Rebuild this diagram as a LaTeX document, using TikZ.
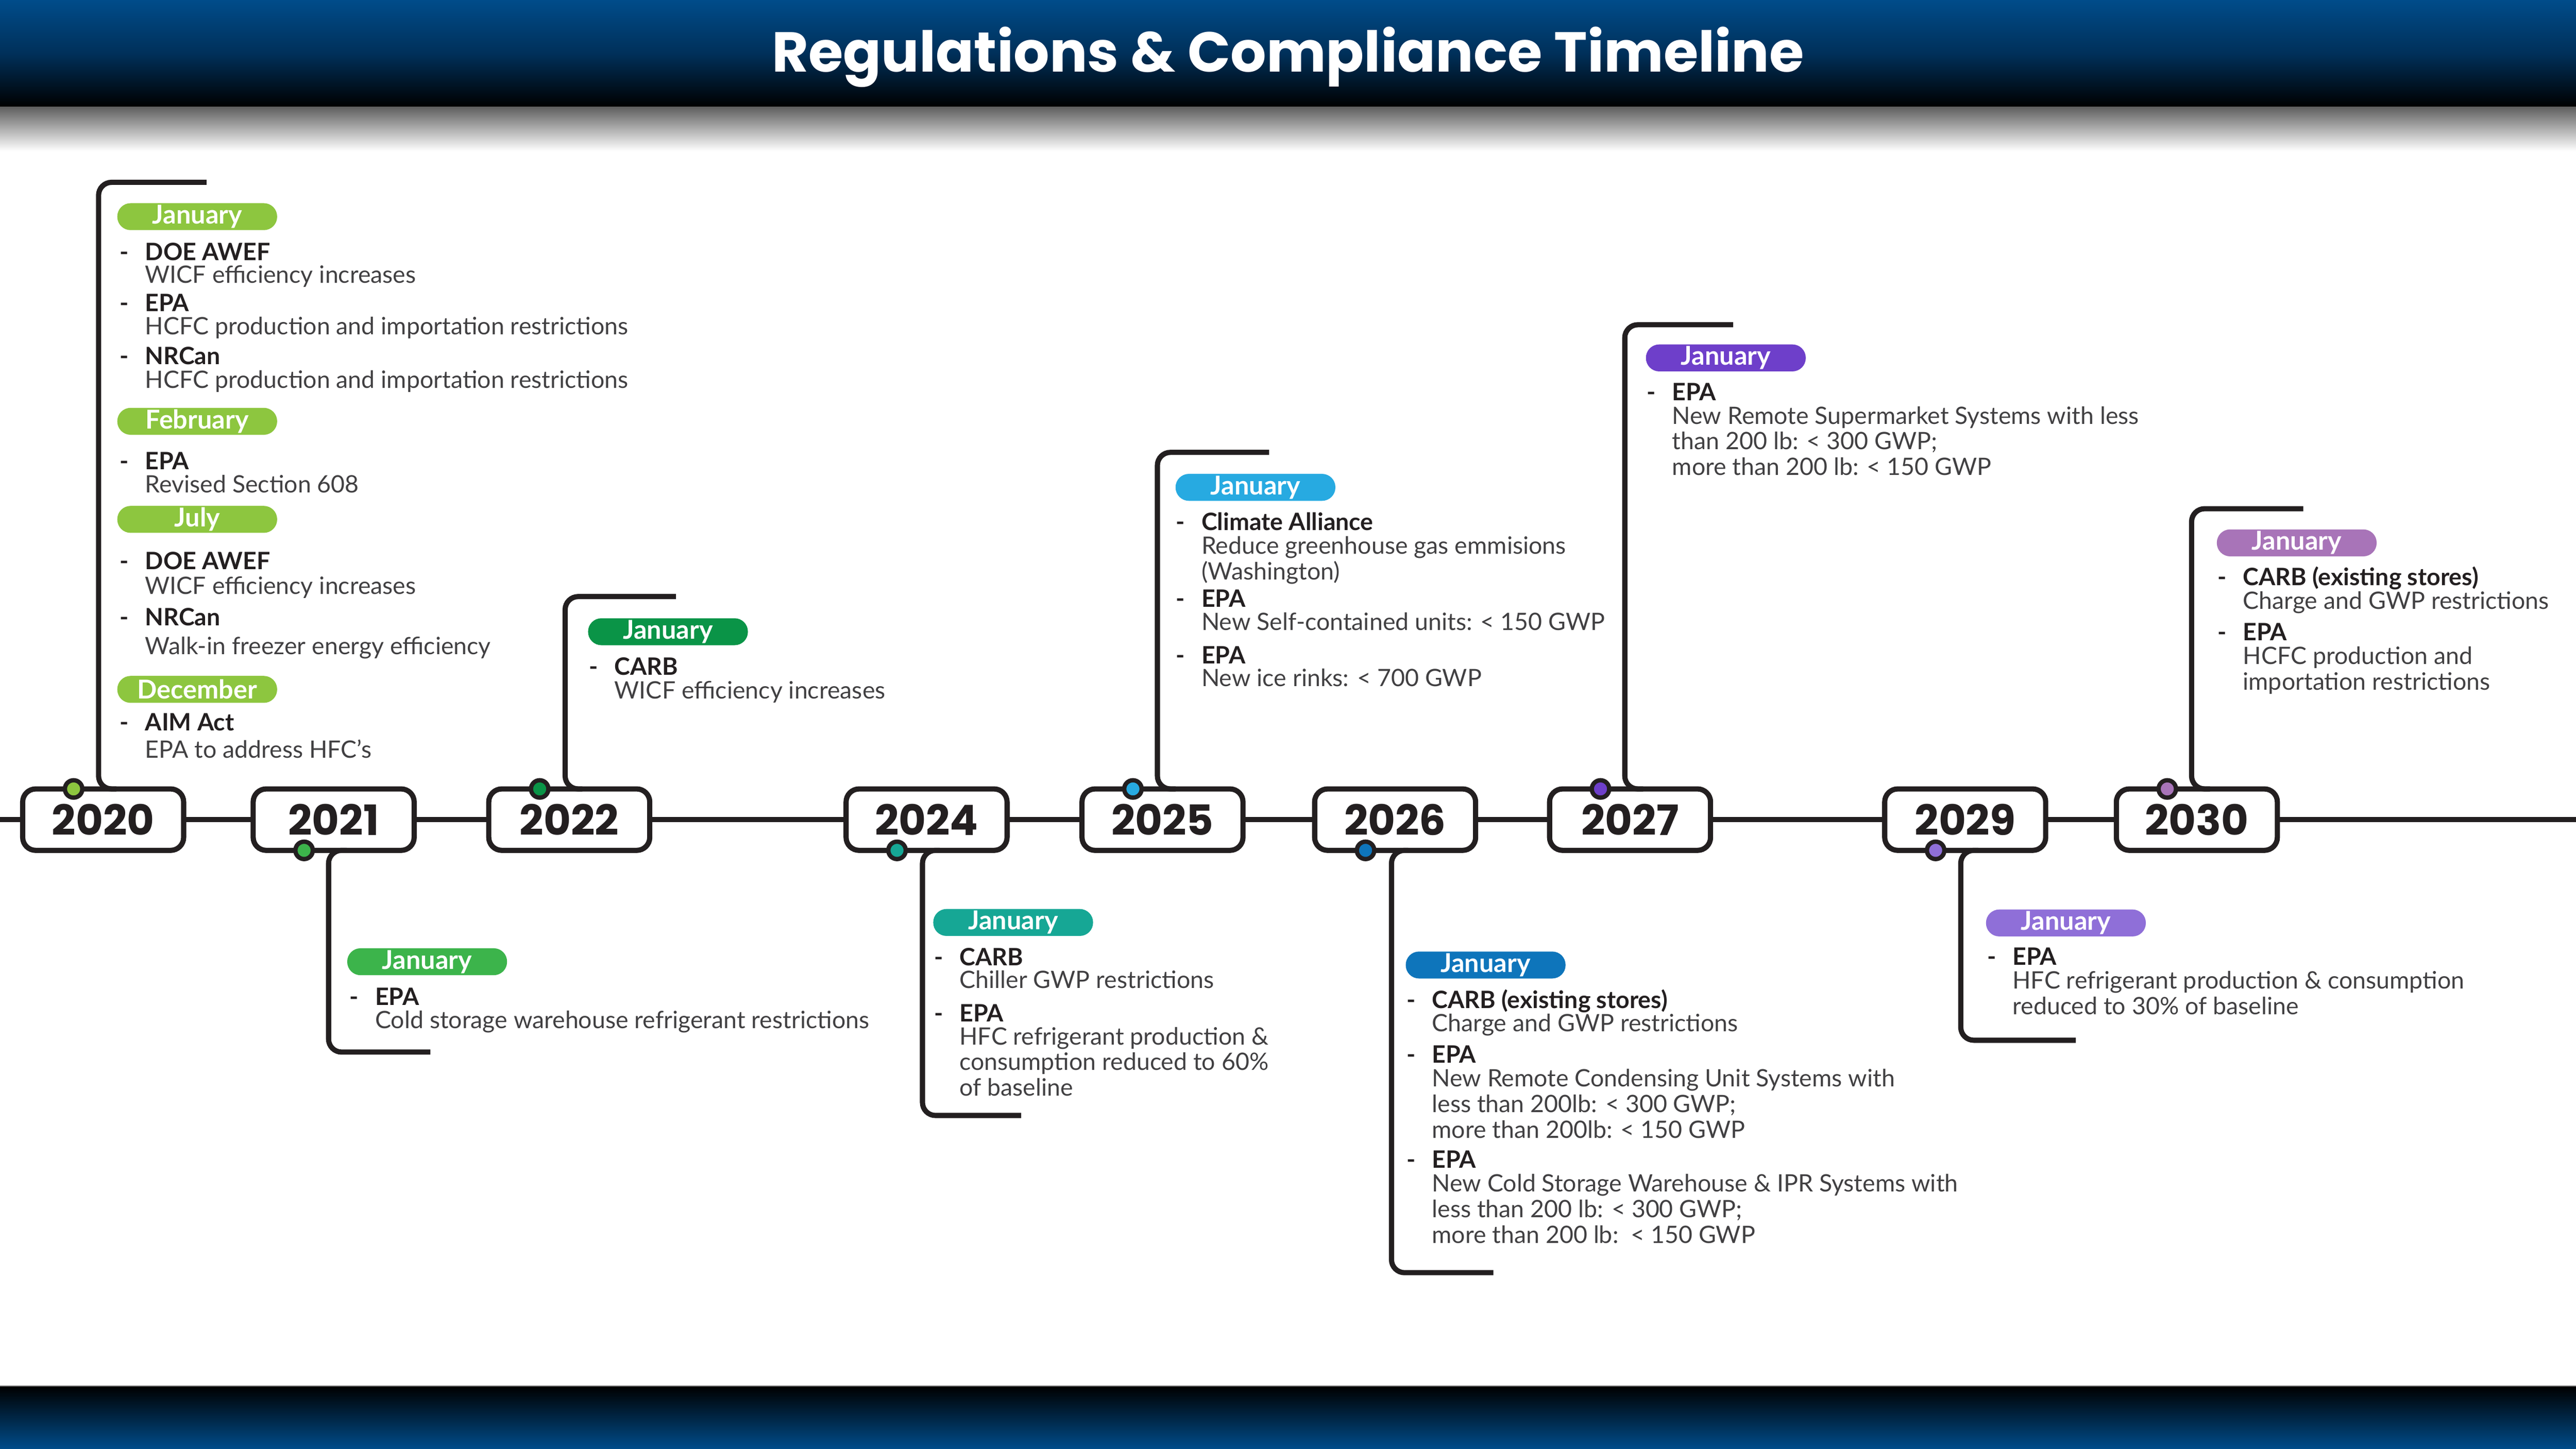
\documentclass[tikz,border=0pt]{standalone}
\usepackage{fontspec}
\setmainfont{Lato}
\newfontfamily\yearfont{Poppins}

\definecolor{ink}{HTML}{231F20}
\definecolor{descgray}{HTML}{414042}
\definecolor{hdrblue}{HTML}{004C8A}
\definecolor{hdrmid}{HTML}{00305A}
\definecolor{shadowgray}{HTML}{5E5E5E}
\definecolor{c20}{HTML}{8DC63F}
\definecolor{c21}{HTML}{3CB44B}
\definecolor{c22}{HTML}{0A9447}
\definecolor{c24}{HTML}{16A795}
\definecolor{c25}{HTML}{27AAE1}
\definecolor{c26}{HTML}{0E75BB}
\definecolor{c27}{HTML}{6E3FCA}
\definecolor{c29}{HTML}{8F6FD8}
\definecolor{c30}{HTML}{A874B8}

\tikzset{
	yearbox/.style = {draw = ink, fill = white, line width = 1.8pt, rounded corners = 4.5pt,
		minimum width = 1.96cm, minimum height = 0.748cm, inner sep = 0pt, outer sep = 0pt,
		text = ink, font = \yearfont\bfseries\fontsize{14.5}{14.5}\selectfont},
	yeardot/.style = {circle, draw = ink, line width = 1.5pt, minimum size = 0.212cm, inner sep = 0pt},
	yearlink/.style = {draw = ink, line width = 1.8pt, rounded corners = 4.5pt},
	timeline/.style = {draw = ink, line width = 1.7pt},
	pill/.style = {rectangle, rounded corners = 4.6pt, minimum width = 1.946cm, minimum height = 0.328cm,
		inner sep = 0pt, text = white, font = \bfseries\fontsize{9}{9}\selectfont},
	headtxt/.style = {anchor = base west, inner sep = 0pt, text = ink, font = \bfseries\fontsize{8.3}{10}\selectfont},
	desctxt/.style = {anchor = base west, inner sep = 0pt, text = descgray, font = \fontsize{8.3}{10}\selectfont},
	dashtxt/.style = {anchor = base west, inner sep = 0pt, text = ink, font = \bfseries\fontsize{8.3}{10}\selectfont},
	titletxt/.style = {anchor = base, inner sep = 0pt, text = white, font = \yearfont\bfseries\fontsize{19.5}{19.5}\selectfont},
}

% name, x, heading baseline, first line baseline, heading, lines
\newcommand{\regentry}[6]{%
	\node [dashtxt] (#1d) at (#2-15.5,#3) {-};
	\node [headtxt] (#1) at (#2,#3) {#5};
	\foreach \ln [count = \k] in {#6}{
		\node [desctxt] (#1-\k) at (#2,#4+\k*15.6-15.6) {\ln};
	}
}

\begin{document}
\begin{tikzpicture}[x = 0.02cm, y = -0.02cm]
	\useasboundingbox (0,0) rectangle (1568,882);
	\fill [white] (0,0) rectangle (1568,882);
	%
	\fill [top color = hdrblue, bottom color = black, middle color = hdrmid] (0,0) rectangle (1568,65);
	\fill [top color = shadowgray, bottom color = white] (0,65) rectangle (1568,92);
	\node [titletxt] (title) at (784,43.9) {Regulations \& Compliance Timeline};
	\fill [top color = black, bottom color = hdrblue] (0,844) rectangle (1568,882);
	\draw [shadowgray, line width = 0.4pt] (0,844) -- (1568,844);
	%
	\foreach \yr/\cx in {20/62.8, 21/203.1, 22/346.5, 24/564, 25/707.6, 26/849.2, 27/992.2, 29/1196.2, 30/1337.2}{
			\node [yearbox] (y\yr) at (\cx,499) {20\yr};
		}
	\coordinate (tl-start) at (0,499);
	\coordinate (tl-end) at (1568,499);
	\draw [timeline] (tl-start) -- (y20) -- (y21) -- (y22) -- (y24) -- (y25) -- (y26) -- (y27) -- (y29) -- (y30) -- (tl-end);
	%
	\foreach \yr/\ax/\ay/\len/\side in {20/60/111/65.7/north, 21/200/640.5/62/south, 22/344/363.2/67.5/north,
			24/561.5/679.1/60/south, 25/704.5/275.4/68/north, 26/847/774.8/62/south,
			27/989/197.7/66/north, 29/1193.5/633.3/70/south, 30/1334/309.7/68/north}{
			\coordinate (k\yr) at (\ax,\ay);
			\draw [yearlink] ([xshift = 0.16cm]y\yr.\side) -| (k\yr) -- ++(\len,0);
		}
	\foreach \yr/\side in {20/north, 21/south, 22/north, 24/south, 25/north, 26/south, 27/north, 29/south, 30/north}{
			\node [yeardot, fill = c\yr] (d\yr) at ([xshift = -0.36cm]y\yr.\side) {};
		}
	%
	\node [pill, fill = c20] (m20a) at (120.05,131.9) {January};
	\node [pill, fill = c20] (m20b) at (120.05,256.5) {February};
	\node [pill, fill = c20] (m20c) at (120.05,316.2) {July};
	\node [pill, fill = c20] (m20d) at (120.05,419.7) {December};
	\node [pill, fill = c21] (m21) at (260,585.5) {January};
	\node [pill, fill = c22] (m22) at (406.6,384.6) {January};
	\node [pill, fill = c24] (m24) at (616.7,561.6) {January};
	\node [pill, fill = c25] (m25) at (764.2,296.7) {January};
	\node [pill, fill = c26] (m26) at (904.3,587.5) {January};
	\node [pill, fill = c27] (m27) at (1050.5,217.9) {January};
	\node [pill, fill = c29] (m29) at (1257.5,561.9) {January};
	\node [pill, fill = c30] (m30) at (1398,330.5) {January};
	%
	\regentry{e20a}{88}{158.6}{172.4}{DOE AWEF}{WICF efficiency increases}
	\regentry{e20b}{88}{189.7}{203.7}{EPA}{HCFC production and importation restrictions}
	\regentry{e20c}{88}{222}{236.3}{NRCan}{HCFC production and importation restrictions}
	\regentry{e20d}{88}{285.7}{299.9}{EPA}{Revised Section 608}
	\regentry{e20e}{88}{346.7}{361.7}{DOE AWEF}{WICF efficiency increases}
	\regentry{e20f}{88}{381}{398.5}{NRCan}{Walk-in freezer energy efficiency}
	\regentry{e20g}{88}{444.9}{461.4}{AIM Act}{EPA to address HFC’s}
	%
	\regentry{e21}{228}{612}{626}{EPA}{Cold storage warehouse refrigerant restrictions}
	\regentry{e22}{373.7}{411}{425.3}{CARB}{WICF efficiency increases}
	%
	\regentry{e24a}{583.7}{587.8}{601.6}{CARB}{Chiller GWP restrictions}
	\regentry{e24b}{583.7}{622}{636}{EPA}{HFC refrigerant production \&, consumption reduced to 60\%, of baseline}
	%
	\regentry{e25a}{731}{322.9}{337.3}{Climate Alliance}{Reduce greenhouse gas emmisions, {(Washington)}}
	\regentry{e25b}{731}{369.6}{383.6}{EPA}{New Self-contained units: < 150 GWP}
	\regentry{e25c}{731}{404.2}{417.9}{EPA}{New ice rinks: < 700 GWP}
	%
	\regentry{e26a}{871.3}{613.8}{628}{CARB (existing stores)}{Charge and GWP restrictions}
	\regentry{e26b}{871.3}{647.2}{661.6}{EPA}{New Remote Condensing Unit Systems with, less than 200lb: < 300 GWP;, more than 200lb: < 150 GWP}
	\regentry{e26c}{871.3}{711}{725.6}{EPA}{New Cold Storage Warehouse \& IPR Systems with, less than 200 lb: < 300 GWP;, more than 200 lb:\ \ < 150 GWP}
	%
	\regentry{e27}{1017.5}{243.9}{258.1}{EPA}{New Remote Supermarket Systems with less, than 200 lb: < 300 GWP;, more than 200 lb: < 150 GWP}
	\regentry{e29}{1224.7}{587.6}{602}{EPA}{HFC refrigerant production \& consumption, reduced to 30\% of baseline}
	%
	\regentry{e30a}{1364.9}{356.5}{370.8}{CARB (existing stores)}{Charge and GWP restrictions}
	\regentry{e30b}{1364.9}{390}{404.5}{EPA}{HCFC production and, importation restrictions}
\end{tikzpicture}
\end{document}
